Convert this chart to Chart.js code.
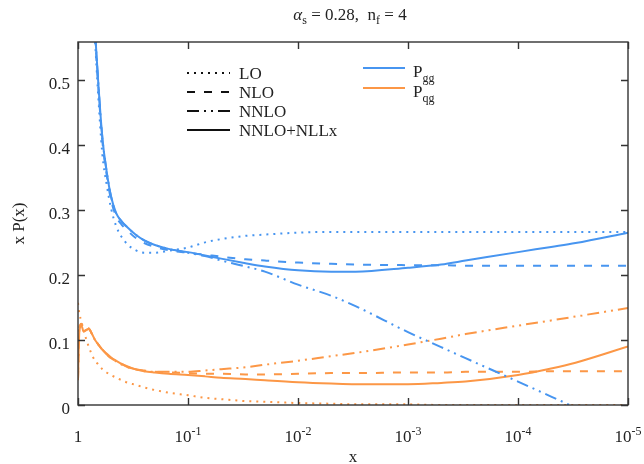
<!DOCTYPE html>
<html>
<head>
<meta charset="utf-8">
<script src="https://cdn.jsdelivr.net/npm/chart.js@4/dist/chart.umd.min.js"></script>
<style>
  html, body { margin: 0; padding: 0; background: #fff; }
  #wrap { width: 644px; height: 464px; position: relative; }
</style>
</head>
<body>
<div id="wrap"><canvas id="splitting"></canvas></div>
<script>
// x grid shared by all curves (x runs from 1 down to 1e-5)
const xs = [1, 0.99, 0.97, 0.93, 0.89, 0.8, 0.75, 0.7, 0.66, 0.6, 0.55, 0.5, 0.45, 0.4, 0.35, 0.3, 0.25,
    0.2, 0.15, 0.1, 0.07, 0.05, 0.03, 0.02, 1e-2, 5e-3, 3e-3, 1e-3, 5e-4, 3e-4, 1e-4, 5e-5, 3e-5, 1e-5];

// x P_gg(x)
const ggLO = [null, null, null, null, null, 0.74, 0.64, 0.56, 0.485, 0.385, 0.34, 0.302, 0.275, 0.258, 0.246,
    0.238, 0.234, 0.234, 0.237, 0.242, 0.25, 0.255, 0.26, 0.262, 0.265, 0.266, 0.266, 0.266, 0.266, 0.266,
    0.266, 0.266, 0.266, 0.266];
const ggNLO = [null, null, null, null, null, 0.75, 0.65, 0.57, 0.5, 0.405, 0.355, 0.315, 0.29, 0.277, 0.267,
    0.257, 0.249, 0.243, 0.238, 0.234, 0.231, 0.228, 0.224, 0.222, 0.219, 0.217, 0.216, 0.215, 0.215, 0.214,
    0.214, 0.214, 0.214, 0.214];
const ggNNLO = [null, null, null, null, null, 0.76, 0.66, 0.575, 0.505, 0.41, 0.36, 0.32, 0.295, 0.282, 0.272,
    0.262, 0.253, 0.246, 0.24, 0.234, 0.229, 0.222, 0.213, 0.205, 0.185, 0.168, 0.152, 0.112, 0.089, 0.072,
    0.036, 0.013, -0.004, -0.04];
const ggResum = [null, null, null, null, null, 0.76, 0.66, 0.575, 0.505, 0.41, 0.36, 0.32, 0.295, 0.282, 0.272,
    0.262, 0.253, 0.246, 0.24, 0.235, 0.23, 0.225, 0.218, 0.213, 0.207, 0.205, 0.205, 0.211, 0.216, 0.222,
    0.235, 0.243, 0.249, 0.265];

// x P_qg(x)
const qgLO = [0.157, 0.15, 0.14, 0.128, 0.115, 0.09, 0.078, 0.068, 0.063, 0.055, 0.05, 0.046, 0.042, 0.038,
    0.034, 0.031, 0.027, 0.023, 0.019, 0.015, 0.011, 0.009, 0.006, 0.005, 0.003, 0.002, 0.001, 0.001,
    0, 0, 0, 0, 0, 0];
const qgNLO = [0.04, 0.075, 0.12, 0.125, 0.115, 0.118, 0.11, 0.1, 0.094, 0.085, 0.078, 0.072, 0.067, 0.063,
    0.058, 0.055, 0.053, 0.051, 0.05, 0.049, 0.048, 0.048, 0.047, 0.047, 0.048, 0.049, 0.049, 0.05, 0.05,
    0.051, 0.051, 0.052, 0.052, 0.052];
const qgNNLO = [0.039, 0.072, 0.118, 0.124, 0.114, 0.117, 0.11, 0.1, 0.094, 0.085, 0.078, 0.072, 0.067, 0.062,
    0.058, 0.055, 0.052, 0.051, 0.051, 0.051, 0.053, 0.055, 0.058, 0.062, 0.068, 0.075, 0.08, 0.093, 0.102,
    0.109, 0.122, 0.13, 0.136, 0.149];
const qgResum = [0.038, 0.07, 0.115, 0.122, 0.113, 0.117, 0.11, 0.1, 0.094, 0.085, 0.079, 0.073, 0.068, 0.063,
    0.059, 0.055, 0.052, 0.05, 0.048, 0.046, 0.044, 0.042, 0.04, 0.038, 0.035, 0.033, 0.032, 0.032, 0.034,
    0.036, 0.046, 0.056, 0.065, 0.09];

const xTicks = [1, 1e-1, 1e-2, 1e-3, 1e-4, 1e-5];
const xTickBase = ['1', '10', '10', '10', '10', '10'];
const xTickExp = ['', '-1', '-2', '-3', '-4', '-5'];
const yTicks = [0, 0.1, 0.2, 0.3, 0.4, 0.5];
const yTickLabels = ['0', '0.1', '0.2', '0.3', '0.4', '0.5'];

const orderNames = ['LO', 'NLO', 'NNLO', 'NNLO+NLLx'];
const kernelSub = ['gg', 'qg'];

const BLUE = '#4795f0';
const ORANGE = '#fc9746';
const FONT = '"Liberation Serif", "DejaVu Serif", serif';
const dashes = [[2, 5], [8, 9], [12, 5, 2, 5, 2, 5], []];

function pts(ys) {
    return xs.map((x, i) => ({ x: x, y: ys[i] }));
}

function line(ys, color, k) {
    return {
        data: pts(ys),
        borderColor: color,
        borderWidth: 2,
        borderDash: dashes[k],
        pointRadius: 0,
        fill: false,
        cubicInterpolationMode: 'monotone'
    };
}

// draws a run of text pieces, each with its own size and vertical offset
function runs(ctx, parts, x, y, align) {
    let w = 0;
    parts.forEach(p => {
        ctx.font = (p.italic ? 'italic ' : '') + p.size + 'px ' + FONT;
        p.w = ctx.measureText(p.t).width;
        w += p.w;
    });
    let cx = align === 'center' ? x - w / 2 : (align === 'right' ? x - w : x);
    ctx.textAlign = 'left';
    ctx.textBaseline = 'alphabetic';
    parts.forEach(p => {
        ctx.font = (p.italic ? 'italic ' : '') + p.size + 'px ' + FONT;
        ctx.fillText(p.t, cx, y + (p.dy || 0));
        cx += p.w;
    });
}

const framePlugin = {
    id: 'frame',
    afterDraw(chart) {
        const ctx = chart.ctx;
        const a = chart.chartArea;
        const sx = chart.scales.x;
        const sy = chart.scales.y;
        ctx.save();
        ctx.strokeStyle = '#333';
        ctx.lineWidth = 1.4;
        ctx.setLineDash([]);
        ctx.strokeRect(a.left, a.top, a.right - a.left, a.bottom - a.top);

        // inward ticks on all four sides
        const tl = 7;
        ctx.beginPath();
        xTicks.forEach(v => {
            const px = Math.round(sx.getPixelForValue(v)) + 0.5;
            ctx.moveTo(px, a.bottom); ctx.lineTo(px, a.bottom - tl);
            ctx.moveTo(px, a.top); ctx.lineTo(px, a.top + tl);
        });
        yTicks.forEach(v => {
            const py = Math.round(sy.getPixelForValue(v)) + 0.5;
            ctx.moveTo(a.left, py); ctx.lineTo(a.left + tl, py);
            ctx.moveTo(a.right, py); ctx.lineTo(a.right - tl, py);
        });
        ctx.stroke();

        ctx.fillStyle = '#222';
        xTicks.forEach((v, i) => {
            const px = sx.getPixelForValue(v);
            runs(ctx, [{ t: xTickBase[i], size: 17 }, { t: xTickExp[i], size: 12, dy: -7 }],
                px, a.bottom + 37, 'center');
        });
        yTicks.forEach((v, i) => {
            const py = sy.getPixelForValue(v);
            runs(ctx, [{ t: yTickLabels[i], size: 17 }], a.left - 8, py + 9, 'right');
        });

        // axis titles
        runs(ctx, [{ t: 'x', size: 17 }], (a.left + a.right) / 2, 462, 'center');
        ctx.save();
        ctx.translate(24, (a.top + a.bottom) / 2);
        ctx.rotate(-Math.PI / 2);
        runs(ctx, [{ t: 'x P(x)', size: 17 }], 0, 0, 'center');
        ctx.restore();

        // title
        runs(ctx, [
            { t: 'α', size: 17, italic: true },
            { t: 's', size: 12, dy: 4 },
            { t: ' = 0.28,  n', size: 17 },
            { t: 'f', size: 12, dy: 4 },
            { t: ' = 4', size: 17 }
        ], 350, 20, 'center');

        // legend: perturbative orders in black, kernels in colour
        ctx.lineWidth = 2;
        ctx.strokeStyle = '#111';
        orderNames.forEach((name, i) => {
            const y = 73 + i * 19;
            ctx.setLineDash(dashes[i]);
            ctx.beginPath();
            ctx.moveTo(187, y); ctx.lineTo(230, y);
            ctx.stroke();
            runs(ctx, [{ t: name, size: 17 }], 239, y + 6, 'left');
        });
        [BLUE, ORANGE].forEach((c, i) => {
            const y = 68 + i * 20;
            ctx.setLineDash([]);
            ctx.strokeStyle = c;
            ctx.beginPath();
            ctx.moveTo(363, y); ctx.lineTo(405, y);
            ctx.stroke();
            runs(ctx, [{ t: 'P', size: 17 }, { t: kernelSub[i], size: 12, dy: 5 }], 413, y + 9, 'left');
        });
        ctx.restore();
    }
};

const ctxEl = document.getElementById('splitting');

new Chart(ctxEl, {
    type: 'line',
    data: {
        datasets: [
            line(ggLO, BLUE, 0),
            line(ggNLO, BLUE, 1),
            line(ggNNLO, BLUE, 2),
            line(ggResum, BLUE, 3),
            line(qgLO, ORANGE, 0),
            line(qgNLO, ORANGE, 1),
            line(qgNNLO, ORANGE, 2),
            line(qgResum, ORANGE, 3)
        ]
    },
    options: {
        responsive: true,
        maintainAspectRatio: false,
        animation: false,
        layout: { padding: { left: 78, right: 16, top: 42, bottom: 59 } },
        scales: {
            x: {
                type: 'logarithmic',
                reverse: true,
                min: 1e-5,
                max: 1,
                display: false,
                afterBuildTicks: s => { s.ticks = xTicks.map(v => ({ value: v })); }
            },
            y: {
                type: 'linear',
                min: 0,
                max: 0.558,
                display: false,
                afterBuildTicks: s => { s.ticks = yTicks.map(v => ({ value: v })); }
            }
        },
        plugins: {
            legend: { display: false },
            tooltip: { enabled: false }
        }
    },
    plugins: [framePlugin]
});
</script>
</body>
</html>
